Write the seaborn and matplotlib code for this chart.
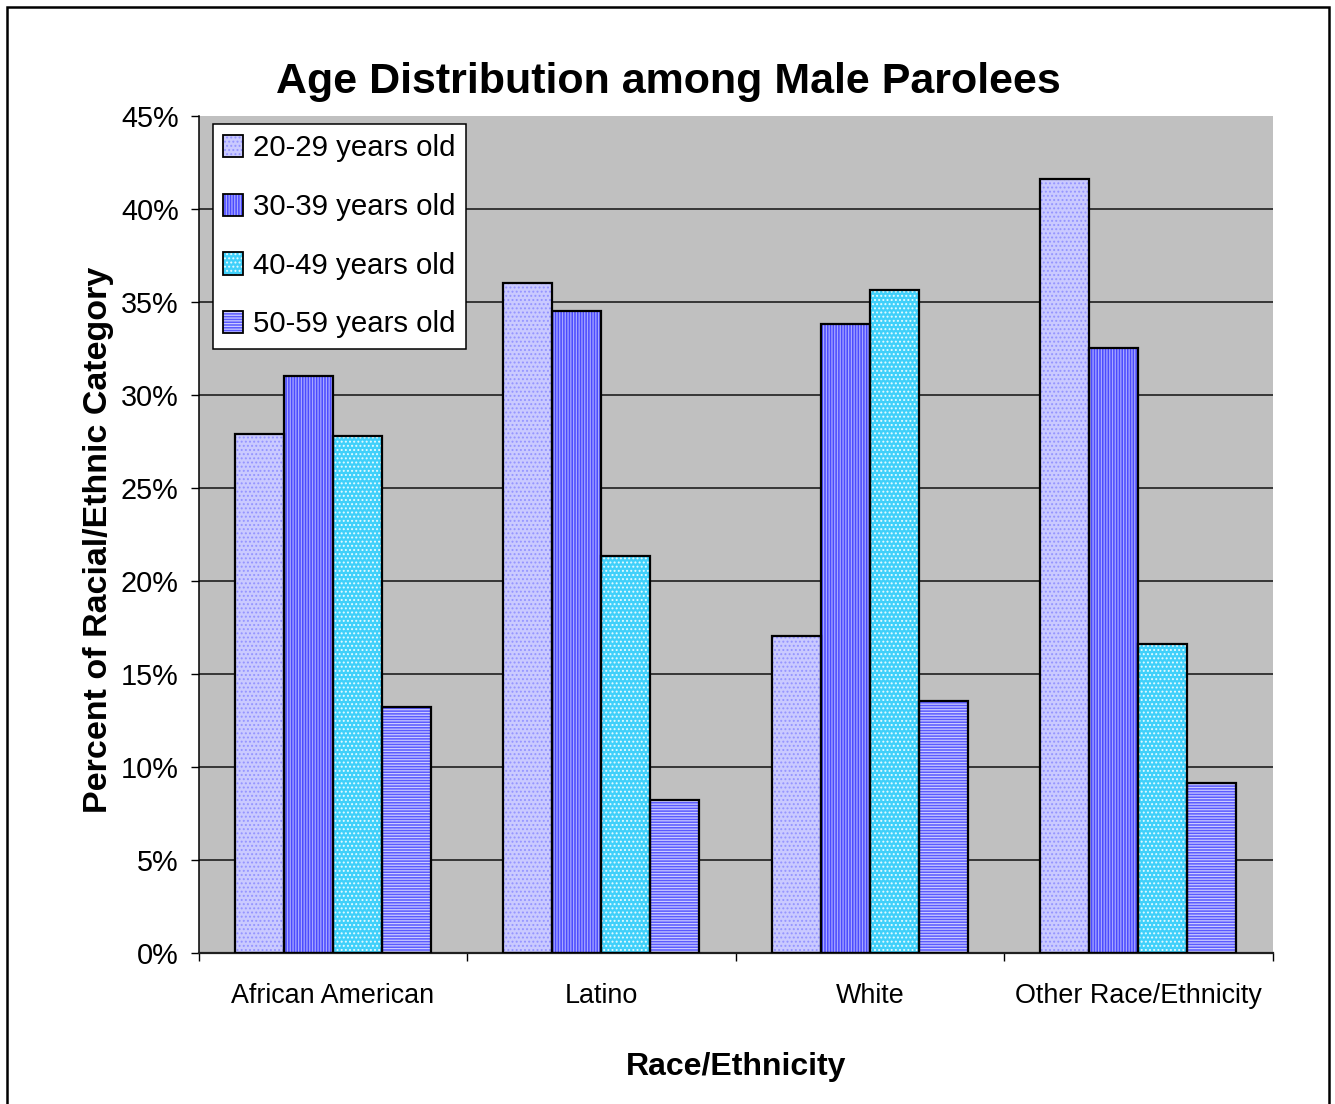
import numpy as np
import pandas as pd
import matplotlib
matplotlib.use("Agg")
import matplotlib.pyplot as plt
from matplotlib.patches import Rectangle
from matplotlib.legend_handler import HandlerTuple
from matplotlib.ticker import PercentFormatter
import seaborn as sns

# ---- data -------------------------------------------------------------
categories = ["African American", "Latino", "White", "Other Race/Ethnicity"]
age_groups = ["20-29 years old", "30-39 years old", "40-49 years old", "50-59 years old"]
pct_20_29 = [27.9, 36.0, 17.0, 41.6]
pct_30_39 = [31.0, 34.5, 33.8, 32.5]
pct_40_49 = [27.8, 21.3, 35.6, 16.6]
pct_50_59 = [13.2, 8.2, 13.5, 9.1]
y_ticks = [0, 5, 10, 15, 20, 25, 30, 35, 40, 45]

title = "Age Distribution among Male Parolees"
x_title = "Race/Ethnicity"
y_title = "Percent of Racial/Ethnic Category"

df = pd.DataFrame({
    "category": np.repeat(categories, len(age_groups)),
    "age": age_groups * len(categories),
    "pct": np.ravel(np.column_stack([pct_20_29, pct_30_39, pct_40_49, pct_50_59])),
})

# fill / hatch look for each age band
styles = {
    "20-29 years old": dict(face="#CACAFF", hatch="....", hcolor="#9494FF"),
    "30-39 years old": dict(face="#4B4BFF", hatch="||||||", hcolor="#A8A8FF"),
    "40-49 years old": dict(face="#40D0FA", hatch="....", hcolor="#E6FBFF"),
    "50-59 years old": dict(face="#5A5AFF", hatch="------", hcolor="#CBCBFF"),
}

# ---- styling ----------------------------------------------------------
sns.set_theme(style="ticks")
plt.rcParams["font.family"] = ["Liberation Sans", "DejaVu Sans"]
plt.rcParams["hatch.linewidth"] = 0.9
for key in ("text.color", "axes.labelcolor", "xtick.color", "ytick.color"):
    plt.rcParams[key] = "black"

W, H = 1335, 1104
fig = plt.figure(figsize=(W / 100, H / 100), dpi=100)
fig.patch.set_facecolor("white")
ax = fig.add_axes([198.5 / W, 1 - 952.5 / H, 1074.2 / W, 836.8 / H])
ax.set_facecolor("#C0C0C0")

sns.barplot(
    data=df, x="category", y="pct", hue="age", order=categories,
    hue_order=age_groups, palette=[styles[a]["face"] for a in age_groups],
    width=0.73, legend=False, ax=ax, saturation=1, errorbar=None,
)

# apply hatching and a black outline to every bar
for level, container in zip(age_groups, ax.containers):
    st = styles[level]
    for bar in container:
        bar.set_facecolor(st["face"])
        bar.set_hatch(st["hatch"])
        bar.set_edgecolor(st["hcolor"])
        bar.set_linewidth(0)
        ax.add_patch(Rectangle((bar.get_x(), bar.get_y()), bar.get_width(),
                               bar.get_height(), fill=False,
                               edgecolor="black", linewidth=1.6, zorder=3))

# y axis
ax.set_ylim(0, 45)
ax.set_yticks(y_ticks)
ax.yaxis.set_major_formatter(PercentFormatter(decimals=0))
ax.tick_params(axis="y", length=5.8, width=1.0, pad=8.5, labelsize=20.8)
ax.yaxis.grid(True, color="#111111", linewidth=1.1)
ax.set_axisbelow(True)
ax.yaxis.get_major_ticks()[-1].gridline.set_visible(False)

# x axis: ticks on category boundaries, labels centred on categories
n = len(categories)
ax.set_xlim(-0.5, n - 0.5)
ax.set_xticks(np.arange(n + 1) - 0.5)
ax.set_xticklabels([])
ax.set_xticks(np.arange(n), minor=True)
ax.set_xticklabels(categories, minor=True)
ax.tick_params(axis="x", which="major", length=6, width=1.0)
ax.tick_params(axis="x", which="minor", length=0, pad=22, labelsize=19.4)

for side in ("top", "right"):
    ax.spines[side].set_visible(False)
ax.spines["left"].set_color("black")
ax.spines["left"].set_linewidth(1.1)
ax.spines["bottom"].set_color("#202020")
ax.spines["bottom"].set_linewidth(1.6)

ax.set_xlabel(x_title, fontsize=23, fontweight="bold")
ax.xaxis.set_label_coords(0.5, -0.119)
ax.set_ylabel(y_title, fontsize=24.5, fontweight="bold")
ax.yaxis.set_label_coords(-0.079, 0.493)

# legend with hatched swatches
handles = []
for level in age_groups:
    st = styles[level]
    swatch = Rectangle((0, 0), 1, 1, facecolor=st["face"], hatch=st["hatch"],
                       edgecolor=st["hcolor"], linewidth=0)
    frame = Rectangle((0, 0), 1, 1, fill=False, edgecolor="black", linewidth=1.3)
    handles.append((swatch, frame))
leg = ax.legend(
    handles, age_groups, handler_map={tuple: HandlerTuple(ndivide=1, pad=0)},
    loc="upper left", bbox_to_anchor=(0.0135, 0.99), borderaxespad=0,
    fontsize=21.2, handlelength=0.68, handleheight=0.8, handletextpad=0.34,
    labelspacing=1.04, borderpad=0.35, fancybox=False, framealpha=1,
    edgecolor="black", facecolor="white",
)
leg.get_frame().set_linewidth(1.1)

fig.text(0.501, 1 - 93 / H, title, ha="center", va="baseline",
         fontsize=31, fontweight="bold")

# outer chart frame
fig.patches.append(Rectangle((7 / W, -0.05), (1329 - 7) / W, 1.05 - 7 / H,
                             transform=fig.transFigure, fill=False,
                             edgecolor="black", linewidth=1.8))

fig.savefig("out.png", dpi=100)
